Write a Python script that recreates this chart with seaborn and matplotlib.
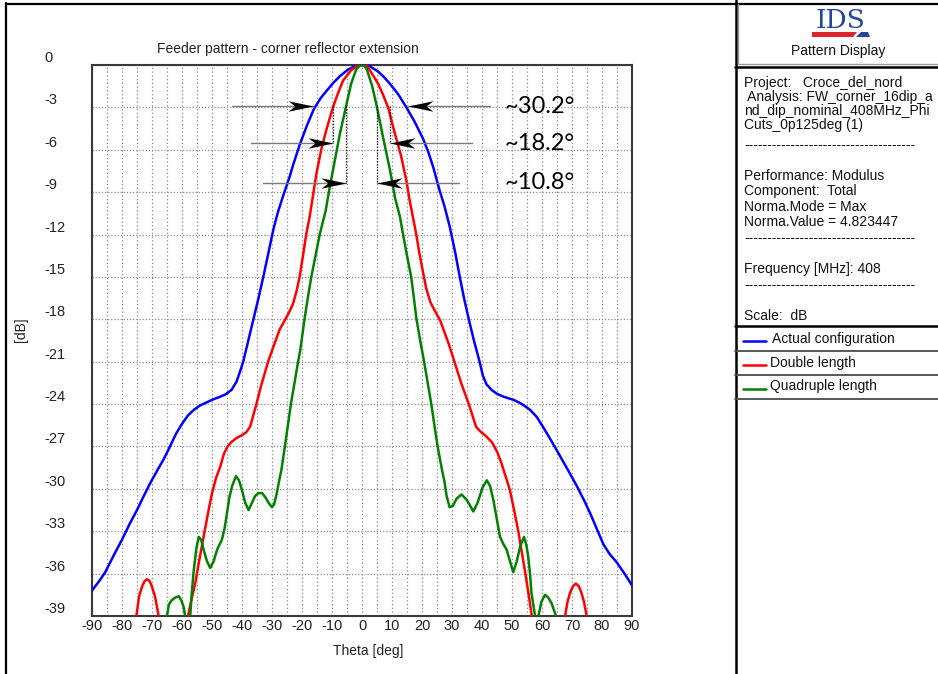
import numpy as np
import pandas as pd
import seaborn as sns
import matplotlib
matplotlib.use("Agg")
import matplotlib.pyplot as plt
from matplotlib.path import Path
from matplotlib.lines import Line2D
from matplotlib.patches import Polygon

# ---------------- data ----------------
theta_actual = [-90, -87.5, -85.6, -82.5, -80, -77.5, -75, -72.5, -70.6, -68, -66.1, -64, -62, -60, -58, -56,
                -54, -52, -50, -47.5, -45.4, -43.5, -41.8, -40.5, -39.6, -37.9, -36.2, -34.5, -32.9, -31.1,
                -29.5, -28, -26.2, -24.1, -23, -20.7, -18.2, -16, -13.8, -11.9, -9.5, -7.4, -5, -2.5, 0, 2.5,
                5.3, 7.3, 9.2, 12, 14.8, 17.5, 20.3, 22, 23.7, 25.9, 27.5, 29.2, 31, 32.6, 34, 35.6, 37.3,
                39.2, 40.3, 41.5, 43.2, 45.2, 47.5, 50.5, 52.5, 54, 56, 58.2, 60, 62, 64.2, 66.6, 69, 71.6,
                74, 76, 78.2, 80.4, 82.5, 84.9, 87.5, 89.9]
db_actual = [-37.2, -36.5, -35.9, -34.6, -33.6, -32.5, -31.5, -30.4, -29.6, -28.6, -27.9, -27.0, -26.1, -25.4,
             -24.8, -24.4, -24.1, -23.9, -23.7, -23.5, -23.3, -23.0, -22.4, -21.6, -21.0, -19.5, -18.0, -16.5,
             -15.0, -13.2, -11.6, -10.4, -9.2, -7.9, -7.1, -5.6, -4.2, -3.1, -2.35, -1.85, -1.25, -0.8, -0.38,
             -0.08, 0.0, -0.08, -0.45, -0.85, -1.3, -2.05, -3.0, -4.0, -5.2, -6.1, -7.2, -8.9, -10.0, -11.4,
             -13.2, -15.0, -16.5, -18.0, -19.5, -21.0, -22.0, -22.6, -23.0, -23.3, -23.5, -23.7, -23.9, -24.1,
             -24.4, -24.9, -25.5, -26.2, -27.0, -27.9, -28.8, -29.8, -30.8, -31.7, -32.8, -33.9, -34.6, -35.2,
             -36.0, -36.8]

theta_double = [-90, -78, -76, -75.2, -74.3, -73.3, -72.5, -71.7, -70.9, -70.2, -69, -67.8, -67, -63, -59, -58,
                -56.8, -55.6, -54.2, -52.8, -51.4, -50, -48.6, -47.2, -46, -44.8, -43.6, -41.8, -40, -38.6,
                -37.3, -35.2, -33.5, -31.3, -29.3, -27.4, -25.8, -24.3, -23, -21.8, -20.8, -19.6, -18.6, -17.5,
                -16.6, -15.2, -13.6, -11.9, -9.7, -8, -6.3, -3.6, -1.5, 0, 1.5, 2.6, 5.3, 7, 8.7, 10.9, 13.1,
                14.8, 15.9, 17, 18.1, 19.1, 20.1, 21.4, 22.8, 24.3, 26.1, 29, 30.8, 33.2, 35.6, 38, 39.5, 41,
                43.3, 45.1, 46.5, 48, 49.3, 50.7, 52.1, 53.2, 54.3, 55.5, 56.6, 57.5, 62, 66.8, 67.7, 68.5,
                69.3, 70.3, 71.3, 72.3, 73.2, 74, 74.9, 76, 90]
db_double = [-55, -48, -42, -39.0, -37.6, -36.9, -36.55, -36.4, -36.5, -36.8, -37.6, -39.0, -42, -55, -42,
             -39.0, -37.8, -36.7, -35.0, -33.4, -31.8, -30.3, -29.2, -28.4, -27.5, -27.0, -26.7, -26.4, -26.2,
             -26.0, -25.6, -24.0, -22.6, -21.0, -19.8, -18.7, -18.1, -17.5, -16.9, -16.0, -15.0, -13.4, -12.0,
             -10.8, -9.6, -7.7, -6.0, -4.6, -3.0, -2.0, -1.1, -0.36, -0.05, 0.0, -0.05, -0.36, -1.3, -2.1,
             -3.0, -4.8, -6.5, -8.2, -9.6, -10.8, -12.0, -13.3, -14.4, -15.8, -16.8, -17.4, -18.1, -19.8,
             -21.0, -22.6, -24.0, -25.6, -25.95, -26.2, -26.7, -27.4, -28.2, -29.2, -30.1, -31.5, -33.0,
             -34.4, -35.8, -37.4, -39.0, -42, -55, -42, -39.0, -38.0, -37.4, -36.9, -36.7, -36.9, -37.4,
             -38.0, -39.0, -42, -55]

theta_quad = [-90, -68, -65.5, -65, -64.4, -63.5, -62.3, -61.1, -60.2, -59.4, -58.6, -58, -57.4, -56.8, -56.1,
              -55.2, -54.4, -53.6, -52.8, -51.7, -50.6, -49.4, -48.3, -46.7, -45.8, -45, -44.2, -43.3, -42,
              -41, -40, -38.9, -37.8, -36.7, -35.6, -34.5, -33.3, -32.2, -31.1, -30, -29.3, -28.5, -27.5,
              -26.9, -25.7, -24.7, -23.7, -22.5, -21.3, -20.6, -19.1, -18, -16.9, -15.5, -14.1, -12.1, -10.8,
              -9.1, -7.4, -5.4, -3.6, -1.9, -0.7, 0, 0.7, 1.6, 3.4, 5, 7, 9.2, 11, 12.6, 13.7, 15, 16.4, 17.3,
              18.1, 19.3, 20.7, 21.9, 23.1, 24.2, 25.2, 26.7, 27.5, 28.2, 29.2, 30.3, 31.5, 33.2, 35, 37.1,
              38.5, 40.2, 41.6, 42.7, 43.8, 44.9, 46, 47.1, 48.2, 49.3, 50.4, 51.5, 52.7, 54, 54.8, 55.4, 56,
              56.5, 57.1, 57.7, 58.2, 58.8, 59.8, 61, 62.1, 63.2, 64, 64.7, 65.2, 68, 90]
db_quad = [-60, -48, -41, -39.0, -38.2, -37.9, -37.7, -37.6, -37.9, -38.4, -39.5, -41.5, -39.5, -37.5, -35.8,
           -34.2, -33.4, -33.6, -34.3, -35.1, -35.6, -35.1, -34.3, -33.6, -32.8, -31.7, -30.6, -29.8, -29.1,
           -29.4, -30.1, -31.0, -31.5, -31.0, -30.5, -30.3, -30.3, -30.6, -31.0, -31.3, -31.1, -30.4, -29.3,
           -28.7, -27.0, -25.5, -24.0, -22.5, -21.0, -20.2, -17.9, -16.4, -15.0, -13.5, -12.0, -10.3, -8.7,
           -6.8, -4.9, -3.0, -1.3, -0.3, -0.04, 0, -0.04, -0.3, -1.5, -3.0, -5.1, -7.3, -9.4, -10.7, -12.0,
           -13.5, -15.0, -16.5, -17.9, -19.4, -21.0, -22.5, -24.0, -25.6, -27.0, -28.7, -29.5, -30.5, -31.3,
           -31.2, -30.7, -30.4, -30.8, -31.6, -31.0, -29.9, -29.4, -29.8, -30.8, -32.1, -33.4, -33.9, -34.3,
           -35.1, -35.9, -35.2, -34.1, -33.4, -34.0, -34.8, -36.0, -37.4, -38.2, -39.0, -41.5, -39.0, -38.0,
           -37.5, -37.7, -38.1, -38.6, -39.0, -41, -48, -60]

series_names = ["Actual configuration", "Double length", "Quadruple length"]
series_colors = ["#0000ff", "#ff0000", "#008000"]

x_ticks = list(range(-90, 91, 10))
x_tick_labels = [str(v) for v in x_ticks]
x_minor = list(range(-85, 90, 10))
y_ticks = list(range(0, -40, -3))
y_tick_labels = [str(v) for v in y_ticks]

# half-power-beamwidth annotations: (label, arrow level dB, left tip, right tip)
hpbw_labels = ["~30.2°", "~18.2°", "~10.8°"]
hpbw_levels = [-2.92, -5.54, -8.33]
hpbw_left_tip = [-16.3, -9.7, -5.3]
hpbw_right_tip = [15.3, 9.3, 5.0]
hpbw_left_start = [-43.3, -37.0, -33.0]
hpbw_right_start = [42.7, 36.7, 32.3]

info_lines = ["Project:   Croce_del_nord", " Analysis: FW_corner_16dip_a", "nd_dip_nominal_408MHz_Phi",
              "Cuts_0p125deg (1)", "-" * 37, "Performance: Modulus", "Component:  Total",
              "Norma.Mode = Max", "Norma.Value = 4.823447", "-" * 37, "Frequency [MHz]: 408",
              "-" * 37, "Scale:  dB"]
info_baselines = [86.5, 101.5, 115.5, 129, 149, 180, 195.5, 211, 226.5, 242, 273, 289, 320]

# ---------------- figure ----------------
sns.set_theme(style="white")
plt.rcParams["font.family"] = ["Liberation Sans", "DejaVu Sans"]
plt.rcParams["axes.unicode_minus"] = False

W, H = 938, 674
fig = plt.figure(figsize=(W / 100, H / 100), dpi=100, facecolor="white")


def fx(x):
    return x / W


def fy(y):
    return 1 - y / H


ax = fig.add_axes([fx(92), fy(616), (632 - 92) / W, (616 - 65) / H])
ax.set_facecolor("white")

frames = []
for name, th, db in zip(series_names, [theta_actual, theta_double, theta_quad], [db_actual, db_double, db_quad]):
    frames.append(pd.DataFrame({"theta": th, "dB": db, "config": name}))
df = pd.concat(frames, ignore_index=True)

sns.lineplot(data=df, x="theta", y="dB", hue="config", palette=dict(zip(series_names, series_colors)),
             estimator=None, sort=False, linewidth=1.8, legend=False, ax=ax, zorder=3)

ax.set_xlim(-90, 90)
ax.set_ylim(-39, 0)
ax.set_xticks(x_ticks, labels=x_tick_labels)
ax.set_xticks(x_minor, minor=True)
ax.set_yticks(y_ticks, labels=y_tick_labels, ha="left", va="bottom")
ax.tick_params(axis="x", which="both", length=0, pad=2.5, labelsize=10.5, colors="#222222")
ax.tick_params(axis="y", which="both", length=0, pad=34.5, labelsize=10.5, colors="#222222")
ax.grid(which="both", axis="x", linestyle=(0, (1, 2)), color="#8a8a8a", linewidth=0.9)
ax.grid(which="major", axis="y", linestyle=(0, (1, 1.5)), color="#8a8a8a", linewidth=0.9)
ax.set_axisbelow(True)
for s in ax.spines.values():
    s.set_color("#3a3a3a")
    s.set_linewidth(1.5)

ax.set_xlabel("Theta [deg]", fontsize=10, color="#222222")
ax.xaxis.set_label_coords((368 - 92) / 540, (616 - 644) / 551)
ax.set_ylabel("[dB]", fontsize=10, color="#222222")
ax.yaxis.set_label_coords((28 - 92) / 540, (616 - 330) / 551)
ax.set_title("Feeder pattern - corner reflector extension", fontsize=10, color="#222222",
             x=(288 - 92) / 540, pad=9)

# stealth arrowheads
right_head = Path([(0, 0), (-1, 0.21), (-0.72, 0), (-1, -0.21), (0, 0)],
                  [Path.MOVETO, Path.LINETO, Path.LINETO, Path.LINETO, Path.CLOSEPOLY])
left_head = Path([(0, 0), (1, 0.21), (0.72, 0), (1, -0.21), (0, 0)],
                 [Path.MOVETO, Path.LINETO, Path.LINETO, Path.LINETO, Path.CLOSEPOLY])

for lbl, lev, lt, rt, ls, rs in zip(hpbw_labels, hpbw_levels, hpbw_left_tip, hpbw_right_tip,
                                    hpbw_left_start, hpbw_right_start):
    ax.plot([ls, lt], [lev, lev], color="#7a7a7a", lw=1.0, zorder=4)
    ax.plot([rs, rt], [lev, lev], color="#7a7a7a", lw=1.0, zorder=4)
    ax.plot([lt], [lev], marker=right_head, ms=36, color="black", mew=0, zorder=5)
    ax.plot([rt], [lev], marker=left_head, ms=36, color="black", mew=0, zorder=5)
    if lev < -3.5:
        ax.plot([lt, lt], [-2.92, lev], color="black", lw=0.9, ls=(0, (1, 1.3)), zorder=4)
        ax.plot([rt, rt], [-2.92, lev], color="black", lw=0.9, ls=(0, (1, 1.3)), zorder=4)
    ax.text(47.5, lev, lbl, fontsize=17, family=["Lato", "DejaVu Sans"], color="black",
            ha="left", va="center", zorder=6)


# ---------------- frame and right-hand info panel ----------------
def hline(y, x0, x1, color="black", lw=1.5):
    fig.add_artist(Line2D([fx(x0), fx(x1)], [fy(y), fy(y)], transform=fig.transFigure, color=color, lw=lw))


def vline(x, y0, y1, color="black", lw=1.5):
    fig.add_artist(Line2D([fx(x), fx(x)], [fy(y0), fy(y1)], transform=fig.transFigure, color=color, lw=lw))


vline(6, 3, 674, "black", 1.6)
hline(3.5, 6, 735, "black", 1.6)
vline(735.5, 0, 674, "black", 1.8)
hline(4, 735, 938, "black", 1.6)
vline(738.3, 4, 64, "#9a9a9a", 1.0)
hline(63.5, 738.3, 938, "#9a9a9a", 1.0)
hline(67, 735, 938, "black", 1.8)
hline(326, 735, 938, "black", 1.8)
for yy in [350.7, 375, 398.7]:
    hline(yy, 735, 938, "#4a4a4a", 1.3)

# IDS logo
fig.text(fx(840), fy(28.5), "IDS", fontsize=19, family=["DejaVu Serif"], color="#24479b",
         ha="center", va="baseline")
fig.add_artist(Polygon([(fx(812), fy(32)), (fx(857), fy(32)), (fx(853), fy(37)), (fx(812), fy(37))],
                       closed=True, transform=fig.transFigure, color="#d9252b", lw=0))
fig.add_artist(Polygon([(fx(861), fy(32)), (fx(868), fy(32)), (fx(870), fy(37)), (fx(856), fy(37))],
                       closed=True, transform=fig.transFigure, color="#24479b", lw=0))
fig.text(fx(838), fy(55), "Pattern Display", fontsize=10, color="#111111", ha="center", va="baseline")

for line, yb in zip(info_lines, info_baselines):
    fig.text(fx(744), fy(yb), line, fontsize=10, color="#111111", ha="left", va="baseline")

legend_line_y = [340.7, 365, 389.3]
legend_text_x = [772, 770, 770]
legend_text_y = [343.3, 366.7, 390]
for name, col, ly, tx, ty in zip(series_names, series_colors, legend_line_y, legend_text_x, legend_text_y):
    fig.add_artist(Line2D([fx(743), fx(766)], [fy(ly), fy(ly)], transform=fig.transFigure, color=col, lw=1.8))
    fig.text(fx(tx), fy(ty), name, fontsize=10, color="#111111", ha="left", va="baseline")

fig.savefig("out.png", dpi=100, facecolor="white")
